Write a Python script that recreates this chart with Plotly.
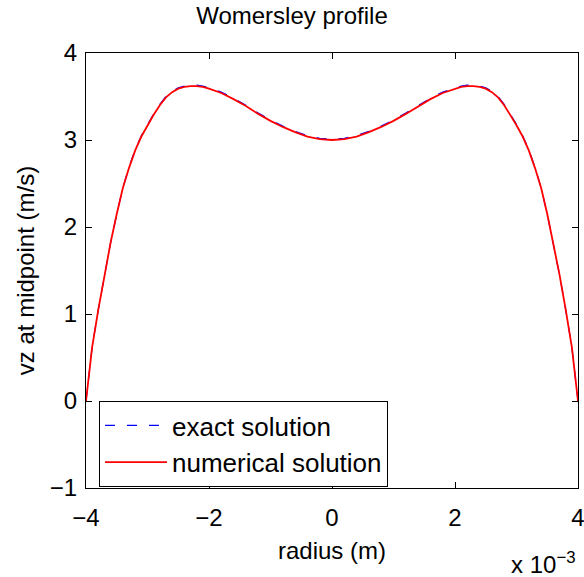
import plotly.graph_objects as go

# radius in units of 1e-3 m
radius_mm = [-4.0, -3.9, -3.8, -3.7, -3.6, -3.5, -3.4, -3.3, -3.2, -3.1, -3.0,
             -2.9, -2.8, -2.7, -2.6, -2.5, -2.4, -2.3, -2.2, -2.1, -2.0,
             -1.8, -1.6, -1.4, -1.2, -1.0, -0.8, -0.6, -0.4, -0.2, 0.0,
             0.2, 0.4, 0.6, 0.8, 1.0, 1.2, 1.4, 1.6, 1.8,
             2.0, 2.1, 2.2, 2.3, 2.4, 2.5, 2.6, 2.7, 2.8, 2.9,
             3.0, 3.1, 3.2, 3.3, 3.4, 3.5, 3.6, 3.7, 3.8, 3.9, 4.0]

exact_vz = [0.0, 0.62, 1.05, 1.45, 1.82, 2.15, 2.45, 2.69, 2.89, 3.05, 3.18,
            3.30, 3.41, 3.50, 3.56, 3.60, 3.62, 3.63, 3.63, 3.62, 3.60,
            3.55, 3.48, 3.40, 3.31, 3.23, 3.16, 3.10, 3.05, 3.02, 3.01,
            3.02, 3.05, 3.10, 3.16, 3.23, 3.31, 3.40, 3.48, 3.55,
            3.60, 3.62, 3.63, 3.63, 3.62, 3.60, 3.56, 3.50, 3.41, 3.30,
            3.18, 3.05, 2.89, 2.69, 2.45, 2.15, 1.82, 1.45, 1.05, 0.62, 0.0]

numerical_vz = [0.0, 0.62, 1.05, 1.45, 1.82, 2.15, 2.45, 2.68, 2.88, 3.04, 3.17,
                3.29, 3.40, 3.49, 3.55, 3.59, 3.61, 3.62, 3.62, 3.61, 3.59,
                3.54, 3.47, 3.39, 3.30, 3.22, 3.15, 3.09, 3.04, 3.01, 3.00,
                3.01, 3.04, 3.09, 3.15, 3.22, 3.30, 3.39, 3.47, 3.54,
                3.59, 3.61, 3.62, 3.62, 3.61, 3.59, 3.55, 3.49, 3.40, 3.29,
                3.17, 3.04, 2.88, 2.68, 2.45, 2.15, 1.82, 1.45, 1.05, 0.62, 0.0]

x_tick_vals_mm = [-4, -2, 0, 2, 4]
x_tick_text = ["\u22124", "\u22122", "0", "2", "4"]
y_tick_vals = [-1, 0, 1, 2, 3, 4]
y_tick_text = ["\u22121", "0", "1", "2", "3", "4"]

radius_m = [r * 1e-3 for r in radius_mm]
x_tick_vals = [t * 1e-3 for t in x_tick_vals_mm]

FONT = "Liberation Sans, Arial, Helvetica, sans-serif"

fig = go.Figure()
fig.add_trace(go.Scatter(
    x=radius_m, y=exact_vz, mode="lines", name="exact solution",
    line=dict(color="#0000ff", width=1.2, dash="10px,12px"),
))
fig.add_trace(go.Scatter(
    x=radius_m, y=numerical_vz, mode="lines", name="numerical solution",
    line=dict(color="#ff0000", width=1.8),
))

axis_common = dict(
    showline=True, linecolor="black", linewidth=1.3, mirror="ticks",
    ticks="inside", ticklen=6, tickcolor="black", tickwidth=1,
    showgrid=False, zeroline=False, ticklabeloverflow="allow",
    tickfont=dict(family=FONT, size=24, color="black"),
)

fig.update_layout(
    width=584, height=577, autosize=False,
    paper_bgcolor="white", plot_bgcolor="white",
    margin=dict(l=86, r=6, t=53, b=89),
    title=dict(text="Womersley profile", x=0.5, xanchor="center",
               y=1 - 16 / 577, yanchor="middle",
               font=dict(family=FONT, size=24, color="black")),
    xaxis=dict(range=[-0.004, 0.004], tickvals=x_tick_vals, ticktext=x_tick_text,
               automargin=False, ticklabelstandoff=8,
               title=dict(text="radius (m)", font=dict(family=FONT, size=24, color="black"),
                          standoff=12),
               **axis_common),
    yaxis=dict(range=[-1, 4], tickvals=y_tick_vals, ticktext=y_tick_text,
               automargin=False, ticklabelstandoff=3,
               title=dict(text="vz at midpoint (m/s)", font=dict(family=FONT, size=24, color="black"),
                          standoff=8),
               **axis_common),
    legend=dict(x=0.0264, y=0.2, xanchor="left", yanchor="top",
                bgcolor="white", bordercolor="black", borderwidth=1,
                font=dict(family=FONT, size=26, color="black"),
                itemwidth=62, tracegroupgap=0),
    showlegend=True,
)

fig.add_annotation(
    xref="paper", yref="paper", x=1.0, y=-0.211, xanchor="right", yanchor="bottom",
    text="x 10<sup>\u22123</sup>", showarrow=False,
    font=dict(family=FONT, size=24, color="black"),
)

fig.write_html("out.html", config={"displayModeBar": False},
               post_script="document.body.style.margin='0';document.body.style.padding='0';")
